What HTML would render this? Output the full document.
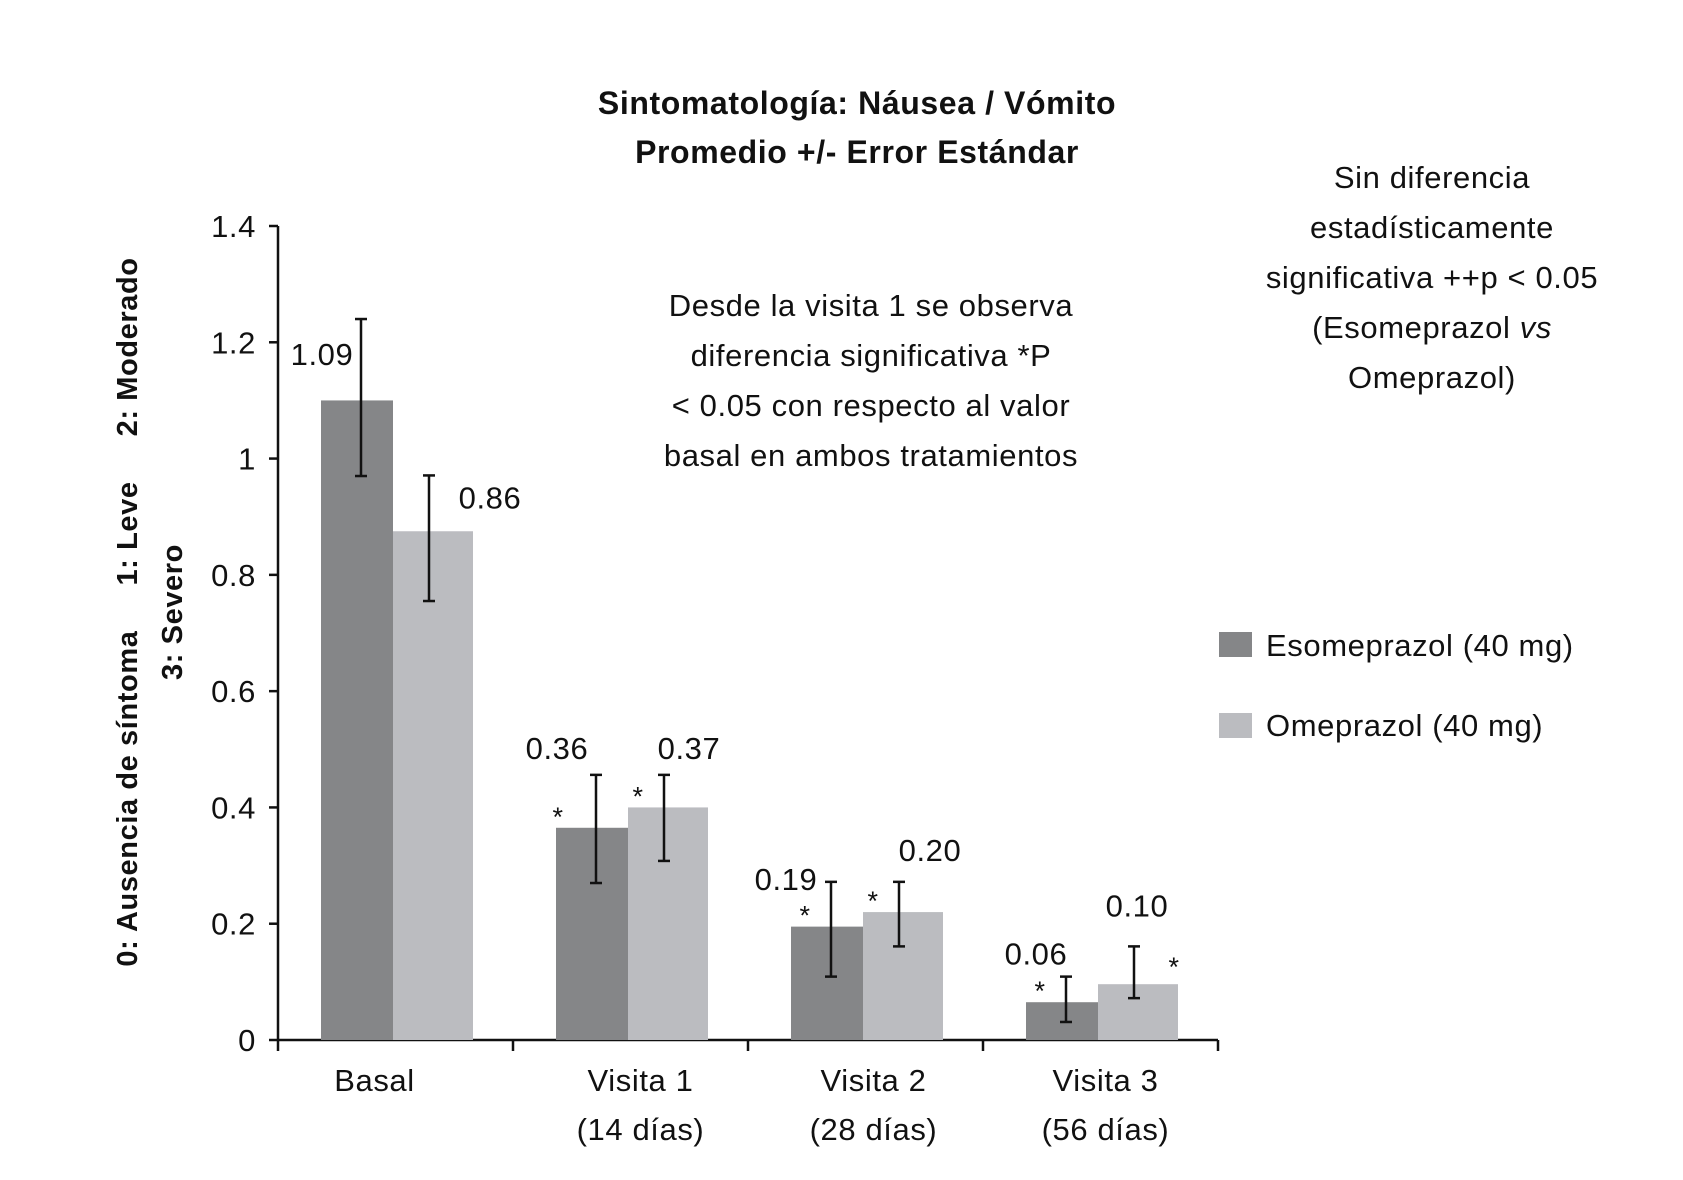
<!DOCTYPE html>
<html><head><meta charset="utf-8"><style>
body{margin:0;background:#fff}
svg text{font-family:"Liberation Sans",sans-serif;fill:#111;letter-spacing:0.6px}
</style></head><body>
<svg id="chart" width="1683" height="1175" viewBox="0 0 1683 1175" xmlns="http://www.w3.org/2000/svg">
<g font-size="32" font-weight="bold" style="letter-spacing:0.8px">
<text x="857" y="114" text-anchor="middle">Sintomatología: Náusea / Vómito</text>
<text x="857" y="163" text-anchor="middle">Promedio +/- Error Estándar</text>
</g>
<g font-size="29" font-weight="bold">
<text transform="translate(137,612) rotate(-90)" text-anchor="middle">0: Ausencia de síntoma<tspan dx="45">1: Leve</tspan><tspan dx="45">2: Moderado</tspan></text>
<text transform="translate(182,612) rotate(-90)" text-anchor="middle">3: Severo</text>
</g>
<g font-size="31" text-anchor="middle">
<text x="871" y="316">Desde la visita 1 se observa</text>
<text x="871" y="366">diferencia significativa *P</text>
<text x="871" y="416">&lt; 0.05 con respecto al valor</text>
<text x="871" y="466">basal en ambos tratamientos</text>
</g>
<g font-size="31" text-anchor="middle">
<text x="1432" y="188">Sin diferencia</text>
<text x="1432" y="238">estadísticamente</text>
<text x="1432" y="288">significativa ++p &lt; 0.05</text>
<text x="1432" y="338">(Esomeprazol <tspan font-style="italic">vs</tspan></text>
<text x="1432" y="388">Omeprazol)</text>
</g>
<g font-size="31">
<rect x="1219" y="632" width="33" height="25" fill="#858688"/>
<text x="1266" y="656">Esomeprazol (40 mg)</text>
<rect x="1219" y="713" width="33" height="25" fill="#bbbcc0"/>
<text x="1266" y="736">Omeprazol (40 mg)</text>
</g>
<g id="plot"></g>
</svg>
<script>
const categories=["Basal","Visita 1","Visita 2","Visita 3"];
const subLabels=["","(14 días)","(28 días)","(56 días)"];
const esoValues=[1.10,0.365,0.195,0.065];
const omeValues=[0.875,0.40,0.22,0.096];
const esoErrHigh=[1.24,0.456,0.272,0.109];
const esoErrLow=[0.97,0.27,0.109,0.031];
const omeErrHigh=[0.971,0.456,0.272,0.161];
const omeErrLow=[0.755,0.308,0.161,0.072];
const esoLabels=["1.09","0.36","0.19","0.06"];
const omeLabels=["0.86","0.37","0.20","0.10"];
const yTicks=[0,0.2,0.4,0.6,0.8,1,1.2,1.4];
const yTickLabels=["0","0.2","0.4","0.6","0.8","1","1.2","1.4"];

const NS="http://www.w3.org/2000/svg";
const X0=278,X1=1218,Y0=1040,Y1=226,YMAX=1.4;
const gw=(X1-X0)/categories.length;
const y=v=>Y0-(v/YMAX)*(Y0-Y1);
const gx=i=>X0+i*gw;
const plot=document.getElementById('plot');
function mk(tag,attrs,parent){const e=document.createElementNS(NS,tag);for(const k in attrs)e.setAttribute(k,attrs[k]);(parent||plot).appendChild(e);return e;}

// label placement offsets (layout, not data)
const esoLblOff=[[1,46],[1,-16],[-5,8],[10,-12]];
const omeLblOff=[[97,33],[61,-16],[67,-21],[39,-30]];
const catOff=[-21,10,8,5];

let ax=mk('line',{x1:X0,y1:Y1,x2:X0,y2:Y0,stroke:'#111','stroke-width':2.5});


let bx=mk('line',{x1:X0,y1:Y0,x2:X1,y2:Y0,stroke:'#111','stroke-width':2.5});


yTicks.forEach((t,i)=>{
  let tk=mk('line',{x1:X0-9,y1:y(t),x2:X0,y2:y(t),stroke:'#111','stroke-width':2.5});
  
  
  let tl=mk('text',{x:X0-22,y:y(t)+11,'text-anchor':'end','font-size':31});
  
  
  tl.textContent=yTickLabels[i];
});
for(let i=0;i<=categories.length;i++){
  let tk=mk('line',{x1:gx(i),y1:Y0,x2:gx(i),y2:Y0+11,stroke:'#111','stroke-width':2.5});
  
  
}
categories.forEach((c,i)=>{
  const dx=gx(i)+43, dw=72, lx=dx+dw, lw=80;
  let b1=mk('rect',{x:dx,y:y(esoValues[i]),width:dw,height:Y0-y(esoValues[i]),fill:'#858688'});
  
  
  let b2=mk('rect',{x:lx,y:y(omeValues[i]),width:lw,height:Y0-y(omeValues[i]),fill:'#bbbcc0'});
  
  
  [[dx+dw/2+4,esoErrHigh[i],esoErrLow[i],'esomeprazol'],[lx+lw/2-4,omeErrHigh[i],omeErrLow[i],'omeprazol']].forEach(([cx,hi,lo,n])=>{
    let g=mk('g',{stroke:'#111','stroke-width':2.5});
    
    
    mk('line',{x1:cx,y1:y(hi),x2:cx,y2:y(lo)},g);
    mk('line',{x1:cx-6,y1:y(hi),x2:cx+6,y2:y(hi)},g);
    mk('line',{x1:cx-6,y1:y(lo),x2:cx+6,y2:y(lo)},g);
  });
  let t1=mk('text',{x:dx+esoLblOff[i][0],y:y(esoErrHigh[i])+esoLblOff[i][1],'text-anchor':'middle','font-size':31});
  
  
  t1.textContent=esoLabels[i];
  let t2=mk('text',{x:lx+omeLblOff[i][0],y:y(omeErrHigh[i])+omeLblOff[i][1],'text-anchor':'middle','font-size':31});
  
  
  t2.textContent=omeLabels[i];
  if(i>0){
    let a1=mk('text',{x:dx+(i==1?2:14),y:y(esoValues[i])-2,'text-anchor':'middle','font-size':27});
    
    
    a1.textContent='*';
    let a2=mk('text',{x:(i==3)?lx+lw-4:lx+10,y:y(omeValues[i])-(i==3?8:2),'text-anchor':'middle','font-size':27});
    
    
    a2.textContent='*';
  }
  let cl=mk('text',{x:gx(i)+gw/2+catOff[i],y:1091,'text-anchor':'middle','font-size':31});
  
  
  cl.textContent=c;
  if(subLabels[i]){
    let sl=mk('text',{x:gx(i)+gw/2+catOff[i],y:1140,'text-anchor':'middle','font-size':31});
    
    
    sl.textContent=subLabels[i];
  }
});
</script>
</body></html>
